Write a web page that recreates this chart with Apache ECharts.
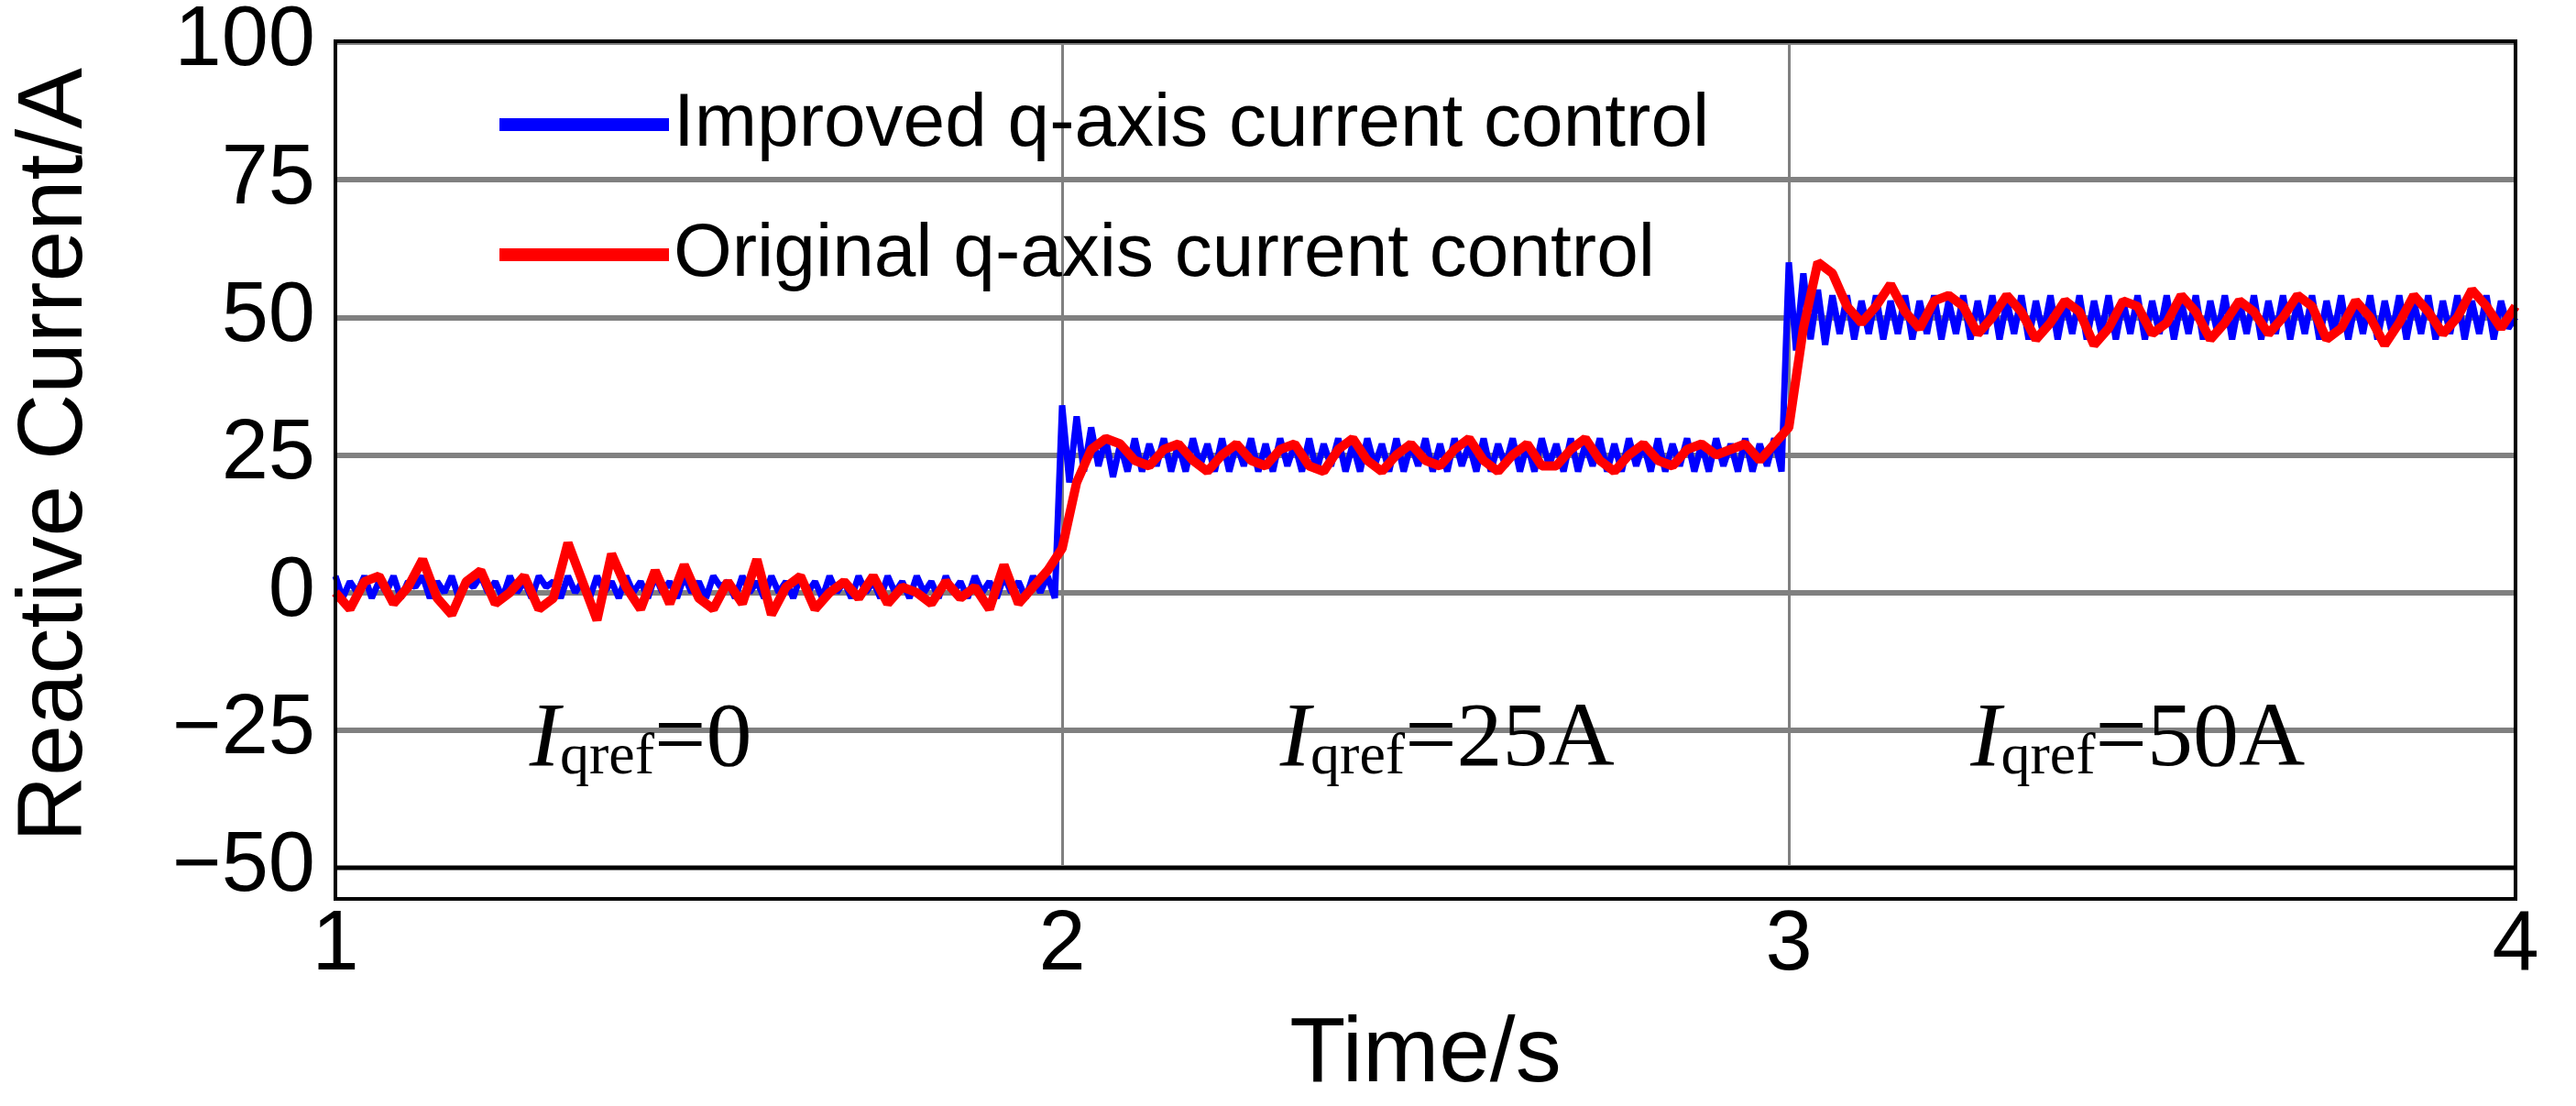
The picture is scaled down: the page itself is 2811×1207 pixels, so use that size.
<!DOCTYPE html>
<html>
<head>
<meta charset="utf-8">
<script src="https://cdn.jsdelivr.net/npm/echarts@6/dist/echarts.min.js"></script>
<style>html,body{margin:0;background:#fff}#c{width:2811px;height:1207px}</style>
</head>
<body>
<div id="c"></div>
<script>
// 数据：时间从1s开始
var blueStart = 1, blueStep = 0.01;
var blueVals = [
 3,-1,2,0,3,-1,2,0,3,-1, 2,1,3,-1,2,0,3,-1,2,1, 3,0,2,-1,3,0,2,-1,3,1, 2,-1,3,0,2,-1,3,0,2,-1,
 3,0,2,-1,3,0,2,-1,3,0, 2,-1,3,1,2,-1,3,0,2,-1, 3,0,2,-1,3,0,2,-1,3,0, 2,-1,3,0,2,-1,3,0,2,-1,
 3,0,2,-1,3,0,2,-1,3,0, 2,-1,3,0,2,-1,3,0,3,-1,
 34,20,32,22,30,23,28,21,27,22, 28,22,27,23,28,22,27,22,28,23, 27,22,28,22,27,23,28,22,27,22, 28,23,27,22,28,22,27,23,28,22,
 27,22,28,23,27,22,28,22,27,23, 28,22,27,22,28,23,27,22,28,22, 27,23,28,22,27,22,28,23,27,22, 28,22,27,23,28,22,27,22,28,23,
 27,22,28,22,27,23,28,22,27,22, 28,23,27,22,28,22,27,23,28,22,
 60,44,58,46,55,45,54,47,54,46, 53,47,54,46,53,47,54,46,53,47, 54,46,53,47,54,46,53,47,54,46, 53,47,54,46,53,47,54,46,53,47,
 54,46,53,47,54,46,53,47,54,46, 53,47,54,46,53,47,54,46,53,47, 54,46,53,47,54,46,53,47,54,46, 53,47,54,46,53,47,54,46,53,47,
 54,46,53,47,54,46,53,47,54,46, 53,47,54,46,53,47,54,46,53,48, 50
];
var redStart = 1, redStep = 0.02;
var redVals = [
 0,-3,2,3,-2,1,6,-1,-4,2, 4,-2,0,3,-3,-1,9,2,-5,7, 1,-3,4,-2,5,-1,-3,2,-2,6, -4,1,3,-3,0,2,-1,3,-2,1, 0,-2,2,-1,1,-3,5,-2,1,4,
 8,20,26,28,
 27,24,23,26,27,24,22,25,27,24, 23,26,27,23,22,26,28,24,22,25, 27,24,23,26,28,24,22,25,27,23, 23,26,28,24,22,25,27,24,23,26, 27,25,26,27,24,27,
 30,48,60,58,52,
 49,52,56,51,48,53,54,52,47,50, 54,51,46,49,53,51,45,48,53,52, 47,49,54,51,46,49,53,51,47,50, 54,52,46,48,53,50,45,49,54,51, 47,50,55,52,48,52
];
var yTicks = [-50, 100, 25];
var seriesNames = ['Improved q-axis current control', 'Original q-axis current control'];
var annotations = [[1.42, -27, '0'], [2.53, -27, '25A'], [3.48, -27, '50A']];

function toPairs(start, step, vals) {
  return vals.map(function (v, i) { return [+(start + i * step).toFixed(3), v]; });
}

var myChart = echarts.init(document.getElementById('c'));
var font = 'Liberation Sans, Arial, sans-serif';
option = {
  animation: false,
  grid: { left: 366, right: 66, top: 45, bottom: 226 },
  legend: {
    orient: 'vertical', left: 540, top: 90, itemGap: 60,
    itemWidth: 185, itemHeight: 14, icon: 'rect',
    textStyle: { fontFamily: font, fontSize: 82, color: '#000' },
    data: seriesNames
  },
  xAxis: {
    type: 'value', min: 1, max: 4, interval: 1,
    name: 'Time/s', nameLocation: 'middle', nameGap: 155,
    nameTextStyle: { fontFamily: font, fontSize: 100, color: '#000' },
    axisLine: { onZero: false, lineStyle: { color: '#000', width: 4 } },
    axisTick: { show: false },
    axisLabel: { fontFamily: font, fontSize: 92, color: '#000', margin: 40 },
    splitLine: { lineStyle: { color: '#808080', width: 3 } }
  },
  yAxis: {
    type: 'value', min: yTicks[0], max: yTicks[1], interval: yTicks[2],
    name: 'Reactive Current/A', nameLocation: 'middle', nameGap: 255,
    nameTextStyle: { fontFamily: font, fontSize: 100, color: '#000' },
    axisLine: { lineStyle: { color: '#000', width: 4 } },
    axisTick: { show: false },
    axisLabel: { fontFamily: font, fontSize: 92, color: '#000', margin: 22,
      formatter: function (v) { return String(v).replace('-', '\u2212'); } },
    splitLine: { lineStyle: { color: '#808080', width: 6 } }
  },
  series: [
    { name: seriesNames[0], type: 'line', symbol: 'none', data: toPairs(blueStart, blueStep, blueVals),
      itemStyle: { color: '#0000ff' }, lineStyle: { color: '#0000ff', width: 7 } },
    { name: seriesNames[1], type: 'line', symbol: 'none', data: toPairs(redStart, redStep, redVals),
      itemStyle: { color: '#ff0000' }, lineStyle: { color: '#ff0000', width: 10 } }
  ]
};
myChart.setOption(option);

// 外框 + 标注
var g = [{ type: 'rect', shape: { x: 366, y: 45, width: 2811 - 366 - 66, height: 1207 - 45 - 226 },
  style: { fill: 'none', stroke: '#000', lineWidth: 4 }, z: 100 }];
annotations.forEach(function (a) {
  var p = myChart.convertToPixel('grid', [a[0], a[1]]);
  g.push({ type: 'text', x: p[0], y: p[1], z: 100, style: {
    text: '{i|I}{s|qref}{n|=' + a[2] + '}', align: 'center', verticalAlign: 'middle',
    rich: {
      i: { fontFamily: 'Liberation Serif, serif', fontStyle: 'italic', fontSize: 100, fill: '#000' },
      s: { fontFamily: 'Liberation Serif, serif', fontSize: 64, fill: '#000', padding: [36, 0, 0, 0] },
      n: { fontFamily: 'Liberation Serif, serif', fontSize: 100, fill: '#000' }
    } } });
});
myChart.setOption({ graphic: g });
</script>
</body>
</html>
